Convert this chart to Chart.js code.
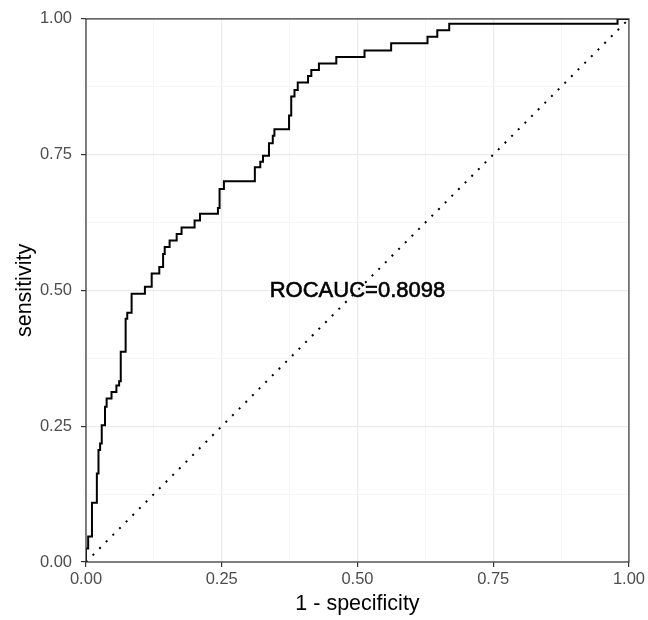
<!DOCTYPE html>
<html>
<head>
<meta charset="utf-8">
<script src="https://cdn.jsdelivr.net/npm/chart.js@4"></script>
<style>
  body { margin: 0; background: #fff; }
  #wrap { width: 648px; height: 620px; position: relative; }
</style>
</head>
<body>
<div id="wrap"><canvas id="rocChart"></canvas></div>
<script>
// ROC curve (1 - specificity, sensitivity)
var fpr = [0, 0, 0.004, 0.011, 0.020, 0.023, 0.026, 0.029, 0.035, 0.038, 0.047, 0.056, 0.061, 0.064,
           0.073, 0.076, 0.084, 0.1085, 0.121, 0.135, 0.142, 0.145, 0.154, 0.167, 0.176, 0.200, 0.210,
           0.243, 0.246, 0.254, 0.311, 0.321, 0.326, 0.337, 0.344, 0.347, 0.374, 0.378, 0.384, 0.390,
           0.409, 0.415, 0.429, 0.461, 0.513, 0.562, 0.629, 0.647, 0.669, 0.979, 1];
var tpr = [0, 0.025, 0.047, 0.109, 0.163, 0.206, 0.218, 0.252, 0.286, 0.301, 0.313, 0.325, 0.333, 0.387,
           0.448, 0.459, 0.494, 0.507, 0.531, 0.543, 0.567, 0.580, 0.592, 0.604, 0.616, 0.629, 0.641,
           0.652, 0.687, 0.701, 0.727, 0.737, 0.748, 0.771, 0.785, 0.797, 0.822, 0.857, 0.869, 0.883,
           0.895, 0.906, 0.918, 0.930, 0.942, 0.955, 0.967, 0.979, 0.991, 1, 1];
var chanceX = [0, 1];
var chanceY = [0, 1];
var majorTicks = [0, 0.25, 0.5, 0.75, 1];
var aucLabel = 'ROCAUC=0.8098';
var aucPos = [0.5, 0.5];

function isMajor(v) {
    return majorTicks.some(function(m) { return Math.abs(m - v) < 1e-6; });
}

// panel border + AUC text
var panelPlugin = {
    id: 'panel',
    afterDatasetsDraw: function(chart) {
        var ctx = chart.ctx, a = chart.chartArea;
        var xs = chart.scales.x, ys = chart.scales.y;
        ctx.save();
        ctx.fillStyle = '#000';
        ctx.strokeStyle = '#000';
        ctx.lineWidth = 0.6;
        ctx.font = '22px "Liberation Sans", Arial, sans-serif';
        ctx.textAlign = 'center';
        ctx.textBaseline = 'middle';
        var tx = xs.getPixelForValue(aucPos[0]), ty = ys.getPixelForValue(aucPos[1]);
        ctx.fillText(aucLabel, tx, ty);
        ctx.strokeText(aucLabel, tx, ty);
        ctx.strokeStyle = '#333333';
        ctx.lineWidth = 1.2;
        ctx.strokeRect(a.left, a.top, a.right - a.left, a.bottom - a.top);
        ctx.restore();
    }
};

function axisOpts(title, isY) {
    return {
        type: 'linear',
        min: 0,
        max: 1,
        afterFit: function(scale) {
            if (isY) scale.width = 86; else scale.height = 58;
        },
        border: { display: false },
        grid: {
            color: function(c) { return isMajor(c.tick.value) ? '#EBEBEB' : '#F4F4F4'; },
            lineWidth: function(c) { return isMajor(c.tick.value) ? 1.2 : 0.8; },
            tickColor: function(c) { return isMajor(c.tick.value) ? '#333333' : 'rgba(0,0,0,0)'; },
            tickLength: 5,
            tickWidth: 1.2
        },
        ticks: {
            stepSize: 0.125,
            autoSkip: false,
            maxRotation: 0,
            color: '#4D4D4D',
            padding: isY ? 9 : 3,
            font: { family: '"Liberation Sans", Arial, sans-serif', size: 16.5 },
            callback: function(v) { return isMajor(v) ? v.toFixed(2) : ''; }
        },
        title: {
            display: true,
            text: title,
            color: '#000',
            font: { family: '"Liberation Sans", Arial, sans-serif', size: 21.5 },
            padding: isY ? { top: 12, bottom: 0 } : { top: 0, bottom: 3 }
        }
    };
}

var ctx = document.getElementById('rocChart');
var rocChart = new Chart(ctx, {
    type: 'line',
    data: {
        datasets: [{
            label: 'ROC',
            data: fpr.map(function(x, i) { return { x: x, y: tpr[i] }; }),
            borderColor: '#000',
            borderWidth: 2,
            stepped: true,
            pointRadius: 0,
            fill: false
        }, {
            label: 'chance',
            data: chanceX.map(function(x, i) { return { x: x, y: chanceY[i] }; }),
            borderColor: '#000',
            borderWidth: 2,
            borderDash: [2, 7.4],
            pointRadius: 0,
            fill: false
        }]
    },
    options: {
        responsive: true,
        maintainAspectRatio: false,
        animation: false,
        layout: { padding: { left: 0, top: 17, right: 18, bottom: 0 } },
        plugins: {
            legend: { display: false },
            tooltip: { enabled: false }
        },
        scales: {
            x: axisOpts('1 - specificity', false),
            y: axisOpts('sensitivity', true)
        }
    },
    plugins: [panelPlugin]
});
</script>
</body>
</html>
